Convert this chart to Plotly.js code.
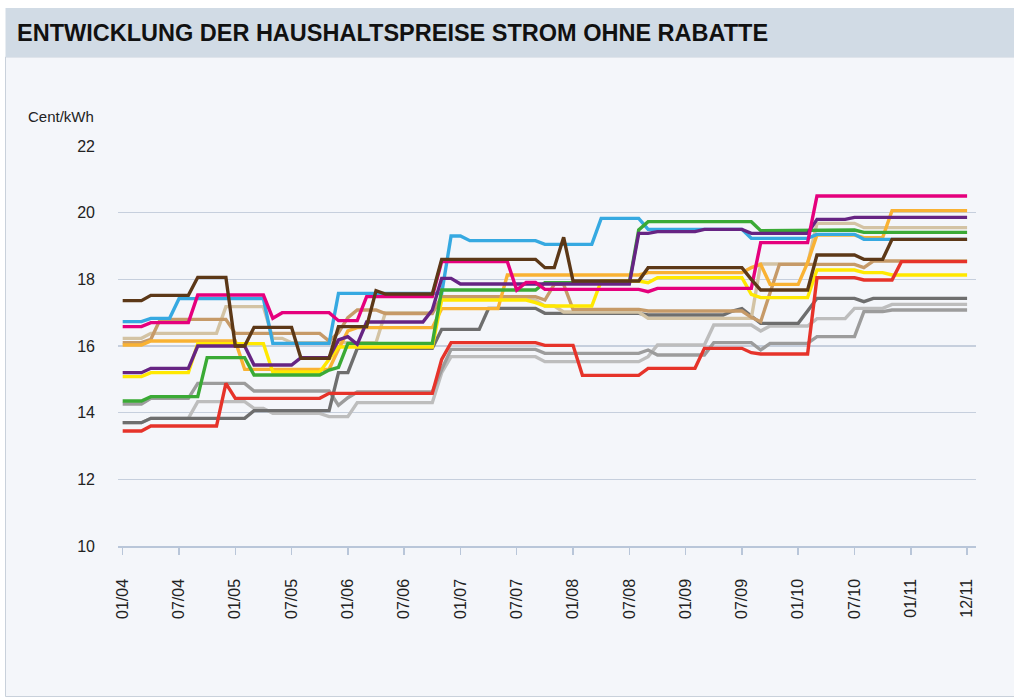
<!DOCTYPE html>
<html>
<head>
<meta charset="utf-8">
<script src="https://cdn.plot.ly/plotly-3.0.1.min.js"></script>
<style>
  html, body { margin: 0; padding: 0; background: #ffffff; }
  #chart { width: 1014px; height: 698px; }
</style>
</head>
<body>
<div id="chart"></div>
<script>
// Tick positions (category index) and their labels
const tickPositions = [0, 6, 12, 18, 24, 30, 36, 42, 48, 54, 60, 66, 72, 78, 84, 90];
const tickLabels = ["01/04","07/04","01/05","07/05","01/06","07/06","01/07","07/07",
                    "01/08","07/08","01/09","07/09","01/10","07/10","01/11","12/11"];

// Series values (Cent/kWh), one value per category
const lightGray = [
13.7,13.7,13.7,13.83,13.83,13.83,13.83,13.83,14.33,14.33,
14.33,14.33,14.33,14.33,14.13,14.13,13.98,13.98,13.98,13.98,
13.98,13.98,13.88,13.88,13.88,14.3,14.3,14.3,14.3,14.3,
14.3,14.3,14.3,14.3,15.2,15.68,15.68,15.68,15.68,15.68,
15.68,15.68,15.68,15.68,15.68,15.53,15.53,15.53,15.53,15.53,
15.53,15.53,15.53,15.53,15.53,15.53,15.68,16.03,16.03,16.03,
16.03,16.03,16.03,16.63,16.63,16.63,16.63,16.63,16.45,16.6,
16.6,16.6,16.6,16.6,16.82,16.82,16.82,16.82,17.13,17.13,
17.13,17.13,17.25,17.25,17.25,17.25,17.25,17.25,17.25,17.25,
17.25];

const midGray = [
14.26,14.26,14.26,14.43,14.43,14.43,14.43,14.43,14.88,14.88,
14.88,14.88,14.88,14.88,14.65,14.65,14.65,14.65,14.65,14.65,
14.65,14.65,14.65,14.22,14.45,14.62,14.62,14.62,14.62,14.62,
14.62,14.62,14.62,14.62,15.3,15.9,15.9,15.9,15.9,15.9,
15.9,15.9,15.9,15.9,15.9,15.78,15.78,15.78,15.78,15.78,
15.78,15.78,15.78,15.78,15.78,15.78,15.88,15.73,15.73,15.73,
15.73,15.73,15.73,16.1,16.1,16.1,16.1,16.1,15.88,16.08,
16.08,16.08,16.08,16.08,16.28,16.28,16.28,16.28,16.28,17.03,
17.03,17.03,17.08,17.08,17.08,17.08,17.08,17.08,17.08,17.08,
17.08];

const darkGray = [
13.7,13.7,13.7,13.83,13.83,13.83,13.83,13.83,13.83,13.83,
13.83,13.83,13.83,13.83,14.06,14.06,14.06,14.06,14.06,14.06,
14.06,14.06,14.06,15.2,15.2,15.93,15.93,15.93,15.93,15.93,
15.93,15.93,15.93,15.93,16.5,16.5,16.5,16.5,16.5,17.13,
17.13,17.13,17.13,17.13,17.13,16.98,16.98,16.98,16.98,16.98,
16.98,16.98,16.98,16.98,16.98,16.98,16.93,16.93,16.93,16.93,
16.93,16.93,16.93,16.93,16.93,17.05,17.12,16.9,16.68,16.68,
16.68,16.68,16.68,17.05,17.43,17.43,17.43,17.43,17.43,17.33,
17.43,17.43,17.43,17.43,17.43,17.43,17.43,17.43,17.43,17.43,
17.43];

const beige = [
16.23,16.23,16.23,16.38,16.38,16.38,16.38,16.38,16.38,16.38,
16.38,17.18,17.18,17.18,17.18,17.18,16.23,16.23,16.1,16.1,
16.1,16.1,16.1,16.1,16.1,16.1,16.1,16.1,17.0,17.0,
17.0,17.0,17.0,17.0,17.45,17.45,17.45,17.45,17.45,17.45,
17.45,17.45,17.45,17.45,17.38,17.2,17.2,17.02,17.02,17.02,
17.02,17.02,17.02,17.02,17.02,17.02,16.83,16.83,16.83,16.83,
16.83,16.83,16.83,16.83,16.83,16.83,16.83,16.83,18.46,18.46,
18.46,18.46,18.46,18.46,19.68,19.68,19.68,19.68,19.68,19.55,
19.55,19.55,19.55,19.55,19.55,19.55,19.55,19.55,19.55,19.55,
19.55];

const caramel = [
16.1,16.1,16.1,16.2,16.8,16.8,16.8,16.8,16.8,16.8,
16.8,16.8,16.38,16.38,16.38,16.38,16.38,16.38,16.38,16.38,
16.38,16.38,16.15,16.4,16.85,17.08,17.08,17.08,16.97,16.97,
16.97,16.97,16.97,16.97,17.48,17.48,17.48,17.48,17.48,17.48,
17.48,17.48,17.48,17.48,17.48,17.38,17.85,17.85,17.1,17.1,
17.1,17.1,17.1,17.1,17.1,17.1,17.05,17.05,17.05,17.05,
17.05,17.05,17.05,17.05,17.05,17.05,17.05,16.86,16.73,17.6,
18.45,18.45,18.45,18.45,18.45,18.45,18.45,18.45,18.45,18.35,
18.55,18.55,18.55,18.55,18.55,18.55,18.55,18.55,18.55,18.55,
18.55];

const orange = [
16.03,16.03,16.03,16.15,16.15,16.15,16.15,16.15,16.15,16.15,
16.15,16.15,16.15,15.3,15.3,15.3,15.3,15.3,15.3,15.3,
15.3,15.3,15.3,15.9,16.45,16.55,16.55,16.55,16.55,16.55,
16.55,16.55,16.55,16.55,17.12,17.12,17.12,17.12,17.12,17.12,
17.12,18.13,18.13,18.13,18.13,18.13,18.13,18.13,18.13,18.13,
18.13,18.13,18.13,18.13,18.13,18.13,18.2,18.2,18.2,18.2,
18.2,18.2,18.2,18.2,18.2,18.2,18.2,18.35,18.45,17.85,
17.85,17.85,17.85,18.5,19.33,19.33,19.33,19.33,19.33,19.25,
19.25,19.25,20.06,20.06,20.06,20.06,20.06,20.06,20.06,20.06,
20.06];

const yellow = [
15.08,15.08,15.08,15.2,15.2,15.2,15.2,15.2,16.07,16.07,
16.07,16.07,16.07,16.07,16.07,16.07,15.22,15.22,15.22,15.22,
15.22,15.22,15.6,15.97,15.97,15.97,15.97,15.97,15.97,15.97,
15.97,15.97,15.97,15.97,17.38,17.38,17.38,17.38,17.38,17.38,
17.38,17.38,17.38,17.38,17.3,17.2,17.2,17.2,17.2,17.2,
17.2,17.95,17.95,17.95,17.95,17.95,17.9,18.05,18.05,18.05,
18.05,18.05,18.05,18.05,18.05,18.05,18.05,17.55,17.45,17.45,
17.45,17.45,17.45,17.45,18.28,18.28,18.28,18.28,18.28,18.2,
18.2,18.2,18.13,18.13,18.13,18.13,18.13,18.13,18.13,18.13,
18.13];

const lightBlue = [
16.73,16.73,16.73,16.83,16.83,16.83,17.42,17.42,17.42,17.42,
17.42,17.42,17.42,17.42,17.42,17.42,16.08,16.08,16.08,16.08,
16.08,16.08,16.08,17.58,17.58,17.58,17.58,17.58,17.58,17.58,
17.58,17.58,17.58,17.58,17.58,19.3,19.3,19.16,19.16,19.16,
19.16,19.16,19.16,19.16,19.16,19.05,19.05,19.05,19.05,19.05,
19.05,19.83,19.83,19.83,19.83,19.83,19.5,19.5,19.5,19.5,
19.5,19.5,19.5,19.5,19.5,19.5,19.5,19.23,19.23,19.23,
19.23,19.23,19.23,19.23,19.35,19.35,19.35,19.35,19.35,19.2,
19.2,19.2,19.2,19.2,19.2,19.2,19.2,19.2,19.2,19.2,
19.2];

const green = [
14.35,14.35,14.35,14.48,14.48,14.48,14.48,14.48,14.48,15.65,
15.65,15.65,15.65,15.65,15.13,15.13,15.13,15.13,15.13,15.13,
15.13,15.13,15.28,15.36,16.08,16.08,16.08,16.08,16.08,16.08,
16.08,16.08,16.08,16.08,17.68,17.68,17.68,17.68,17.68,17.68,
17.68,17.68,17.68,17.68,17.68,17.9,17.9,17.9,17.9,17.9,
17.9,17.9,17.9,17.9,17.9,19.48,19.73,19.73,19.73,19.73,
19.73,19.73,19.73,19.73,19.73,19.73,19.73,19.73,19.46,19.46,
19.46,19.46,19.46,19.46,19.48,19.48,19.48,19.48,19.48,19.41,
19.41,19.41,19.41,19.41,19.41,19.41,19.41,19.41,19.41,19.41,
19.41];

const purple = [
15.2,15.2,15.2,15.33,15.33,15.33,15.33,15.33,16.0,16.0,
16.0,16.0,16.0,16.0,15.43,15.43,15.43,15.43,15.43,15.65,
15.65,15.65,15.65,16.18,16.28,16.05,16.72,16.72,16.72,16.72,
16.72,16.72,16.72,17.08,18.03,18.03,17.86,17.86,17.86,17.86,
17.86,17.86,17.86,17.86,17.86,17.86,17.86,17.86,17.86,17.86,
17.86,17.86,17.86,17.86,17.86,19.38,19.38,19.43,19.43,19.43,
19.43,19.43,19.5,19.5,19.5,19.5,19.5,19.38,19.38,19.38,
19.38,19.38,19.38,19.38,19.8,19.8,19.8,19.8,19.86,19.86,
19.86,19.86,19.86,19.86,19.86,19.86,19.86,19.86,19.86,19.86,
19.86];

const red = [
13.45,13.45,13.45,13.6,13.6,13.6,13.6,13.6,13.6,13.6,
13.6,14.88,14.43,14.43,14.43,14.43,14.43,14.43,14.43,14.43,
14.43,14.43,14.58,14.58,14.58,14.58,14.58,14.58,14.58,14.58,
14.58,14.58,14.58,14.58,15.6,16.1,16.1,16.1,16.1,16.1,
16.1,16.1,16.1,16.1,16.1,16.02,16.02,16.02,16.02,15.12,
15.12,15.12,15.12,15.12,15.12,15.12,15.33,15.33,15.33,15.33,
15.33,15.33,15.93,15.93,15.93,15.93,15.93,15.8,15.76,15.76,
15.76,15.76,15.76,15.76,18.05,18.05,18.05,18.05,18.05,17.98,
17.98,17.98,17.98,18.53,18.53,18.53,18.53,18.53,18.53,18.53,
18.53];

const magenta = [
16.58,16.58,16.58,16.7,16.7,16.7,16.7,16.7,17.53,17.53,
17.53,17.53,17.53,17.53,17.53,17.53,16.83,17.0,17.0,17.0,
17.0,17.0,17.0,16.76,16.76,16.76,17.48,17.48,17.48,17.48,
17.48,17.48,17.48,17.48,18.53,18.53,18.53,18.53,18.53,18.53,
18.53,18.53,17.68,17.91,17.91,17.7,17.7,17.7,17.7,17.7,
17.7,17.7,17.7,17.7,17.7,17.7,17.63,17.73,17.73,17.73,
17.73,17.73,17.73,17.73,17.73,17.73,17.73,17.73,19.1,19.1,
19.1,19.1,19.1,19.1,20.5,20.5,20.5,20.5,20.5,20.5,
20.5,20.5,20.5,20.5,20.5,20.5,20.5,20.5,20.5,20.5,
20.5];

const brown = [
17.36,17.36,17.36,17.52,17.52,17.52,17.52,17.52,18.06,18.06,
18.06,18.06,16.0,16.0,16.56,16.56,16.56,16.56,16.56,15.63,
15.63,15.63,15.63,16.58,16.58,16.58,16.58,17.66,17.56,17.56,
17.56,17.56,17.56,17.56,18.6,18.6,18.6,18.6,18.6,18.6,
18.6,18.6,18.6,18.6,18.6,18.35,18.35,19.26,17.95,17.95,
17.95,17.95,17.95,17.95,17.95,17.95,18.35,18.35,18.35,18.35,
18.35,18.35,18.35,18.35,18.35,18.35,18.35,18.0,17.68,17.68,
17.68,17.68,17.68,17.68,18.73,18.73,18.73,18.73,18.73,18.6,
18.6,18.6,19.2,19.2,19.2,19.2,19.2,19.2,19.2,19.2,
19.2];

// Drawing order (first = bottom) and colours
const seriesList = [
  { y: lightGray, color: "#BDBDBD" },
  { y: midGray,   color: "#9C9C9C" },
  { y: darkGray,  color: "#6E6E6E" },
  { y: beige,     color: "#D3C3A4" },
  { y: caramel,   color: "#C69A68" },
  { y: orange,    color: "#F9B233" },
  { y: yellow,    color: "#FFE800" },
  { y: lightBlue, color: "#36A9E1" },
  { y: green,     color: "#3AAA35" },
  { y: purple,    color: "#662483" },
  { y: red,       color: "#E6332A" },
  { y: magenta,   color: "#E5007D" },
  { y: brown,     color: "#5C3817" }
];

const traces = seriesList.map(s => ({
  type: "scatter",
  mode: "lines",
  y: s.y,
  line: { color: s.color, width: 3.4 },
  hoverinfo: "skip",
  showlegend: false
}));

// plot area: x 118..976, y 146..546
const PL = 118, PR = 976, PT = 146, PB = 546;
const pw = PR - PL, ph = PB - PT;
const px = v => (v - PL) / pw;
const py = v => (PB - v) / ph;

const layout = {
  width: 1014,
  height: 698,
  margin: { l: PL, r: 1014 - PR, t: PT, b: 698 - PB, pad: 0 },
  paper_bgcolor: "#ffffff",
  plot_bgcolor: "rgba(0,0,0,0)",
  font: { family: "Liberation Sans, Arial, sans-serif", color: "#222222", size: 16 },
  title: {
    text: "ENTWICKLUNG DER HAUSHALTSPREISE STROM OHNE RABATTE",
    font: { family: "Liberation Sans, Arial, sans-serif", size: 23.5, color: "#111111", weight: "bold" },
    xref: "container", x: 17 / 1014, xanchor: "left",
    yref: "container", y: 1 - 33 / 698, yanchor: "middle"
  },
  shapes: [
    { type: "rect", xref: "paper", yref: "paper", layer: "below",
      x0: px(5.5), x1: px(1016), y0: py(696.5), y1: py(57),
      fillcolor: "#F4F6FA", line: { color: "#C9D1DB", width: 1 } },
    { type: "rect", xref: "paper", yref: "paper", layer: "below",
      x0: px(5.5), x1: px(1016), y0: py(57), y1: py(8),
      fillcolor: "#D1DBE5", line: { width: 0 } }
  ],
  annotations: [
    { text: "Cent/kWh", xref: "paper", yref: "paper", x: px(26), y: py(116),
      xanchor: "left", yanchor: "middle", showarrow: false,
      font: { size: 15, color: "#222222" } }
  ],
  xaxis: {
    range: [-0.5, 90.95],
    tickmode: "array",
    tickvals: tickPositions,
    ticktext: tickLabels,
    tickangle: -90,
    ticks: "outside",
    ticklen: 7,
    tickwidth: 1.5,
    tickcolor: "#B9C6D9",
    showline: true,
    linecolor: "#B9C6D9",
    linewidth: 1.5,
    showgrid: false,
    zeroline: false,
    ticklabelstandoff: 18,
    tickfont: { size: 16, color: "#222222" },
    fixedrange: true
  },
  yaxis: {
    range: [10, 22],
    tick0: 10,
    dtick: 2,
    ticks: "",
    showline: false,
    showgrid: true,
    gridcolor: "#C6CFDD",
    gridwidth: 1.2,
    zeroline: false,
    ticklabelstandoff: 22,
    tickfont: { size: 16, color: "#222222" },
    fixedrange: true
  }
};

Plotly.newPlot("chart", traces, layout, { staticPlot: true, displayModeBar: false });
</script>
</body>
</html>
